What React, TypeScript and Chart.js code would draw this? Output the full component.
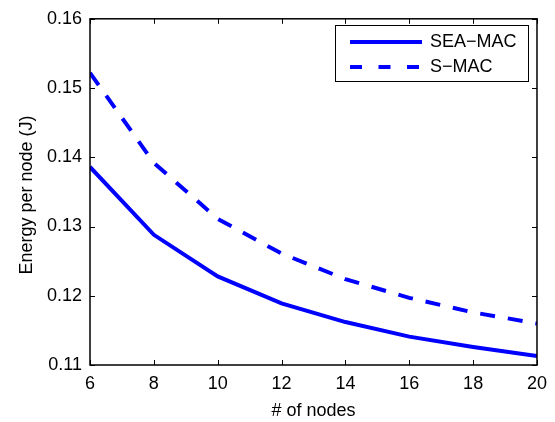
import React, { useEffect, useRef } from "react";
import { Chart, registerables } from "chart.js";

Chart.register(...registerables);

const nodes = [6, 8, 10, 12, 14, 16, 18, 20];
const seaMac = [0.1386, 0.1288, 0.1228, 0.1189, 0.1162, 0.1141, 0.1126, 0.1113];
const sMac = [0.1522, 0.1392, 0.1311, 0.1261, 0.1224, 0.1197, 0.1176, 0.116];
const xTicks = [6, 8, 10, 12, 14, 16, 18, 20];
const yTicks = [0.11, 0.12, 0.13, 0.14, 0.15, 0.16];
const seriesNames = ["SEA\u2212MAC", "S\u2212MAC"];
const xTitle = "# of nodes";
const yTitle = "Energy per node (J)";

const FONT = "Liberation Sans, Arial, Helvetica, sans-serif";
const BLUE = "#0000ff";

const decorPlugin = {
  id: "matlabDecor",
  afterDraw(chart: any) {
    const ctx = chart.ctx as CanvasRenderingContext2D;
    const { left, right, top, bottom } = chart.chartArea;
    const xs = chart.scales.x;
    const ys = chart.scales.y;
    ctx.save();
    // box
    ctx.strokeStyle = "#000";
    ctx.lineWidth = 1.5;
    ctx.setLineDash([]);
    ctx.strokeRect(left, top, right - left, bottom - top);
    // inward ticks
    ctx.lineWidth = 1;
    const tl = 5;
    ctx.beginPath();
    xTicks.forEach((v) => {
      const px = Math.round(xs.getPixelForValue(v)) + 0.5;
      ctx.moveTo(px, bottom);
      ctx.lineTo(px, bottom - tl);
      ctx.moveTo(px, top);
      ctx.lineTo(px, top + tl);
    });
    yTicks.forEach((v) => {
      const py = Math.round(ys.getPixelForValue(v)) + 0.5;
      ctx.moveTo(left, py);
      ctx.lineTo(left + tl, py);
      ctx.moveTo(right, py);
      ctx.lineTo(right - tl, py);
    });
    ctx.stroke();

    // axis titles
    ctx.fillStyle = "#000";
    ctx.font = `18px ${FONT}`;
    ctx.textAlign = "center";
    ctx.textBaseline = "alphabetic";
    ctx.fillText(xTitle, (left + right) / 2, 416);
    ctx.save();
    ctx.translate(27, 195);
    ctx.rotate(-Math.PI / 2);
    ctx.textBaseline = "middle";
    ctx.fillText(yTitle, 0, 0);
    ctx.restore();

    // legend
    const lx0 = 335, ly0 = 25, lx1 = 528, ly1 = 81;
    ctx.fillStyle = "#fff";
    ctx.fillRect(lx0, ly0, lx1 - lx0, ly1 - ly0);
    ctx.strokeStyle = "#000";
    ctx.lineWidth = 1;
    ctx.strokeRect(lx0 + 0.5, ly0 + 0.5, lx1 - lx0, ly1 - ly0);
    const rows = [42, 67];
    const dashes = [[], [12, 16.5]];
    rows.forEach((ry, i) => {
      ctx.strokeStyle = BLUE;
      ctx.lineWidth = 4;
      ctx.lineCap = "butt";
      ctx.setLineDash(dashes[i]);
      ctx.beginPath();
      ctx.moveTo(350, ry);
      ctx.lineTo(422, ry);
      ctx.stroke();
      ctx.setLineDash([]);
      ctx.fillStyle = "#000";
      ctx.textAlign = "left";
      ctx.textBaseline = "middle";
      ctx.fillText(seriesNames[i], 430, ry);
    });
    ctx.restore();
  },
};

export default function App() {
  const ref = useRef<HTMLCanvasElement | null>(null);
  useEffect(() => {
    document.body.style.margin = "0";
    const canvas = ref.current;
    if (!canvas) return;
    const chart = new Chart(canvas, {
      type: "line",
      data: {
        datasets: [
          {
            label: seriesNames[0],
            data: nodes.map((x, i) => ({ x, y: seaMac[i] })),
            borderColor: BLUE,
            borderWidth: 4,
            pointRadius: 0,
            tension: 0,
            fill: false,
            clip: 0,
          },
          {
            label: seriesNames[1],
            data: nodes.map((x, i) => ({ x, y: sMac[i] })),
            borderColor: BLUE,
            borderWidth: 4,
            borderDash: [15, 13],
            borderCapStyle: "butt",
            pointRadius: 0,
            tension: 0,
            fill: false,
            clip: 0,
          },
        ],
      },
      options: {
        animation: false,
        responsive: false,
        devicePixelRatio: 1,
        layout: { padding: { top: 14, right: 16, left: 0, bottom: 0 } },
        plugins: {
          legend: { display: false },
          tooltip: { enabled: false },
        },
        scales: {
          x: {
            type: "linear",
            min: 6,
            max: 20,
            afterBuildTicks: (s: any) => {
              s.ticks = xTicks.map((v) => ({ value: v }));
            },
            afterFit: (s: any) => {
              s.height = 57;
            },
            border: { display: false },
            grid: { display: false, drawTicks: false },
            ticks: {
              color: "#000",
              font: { family: FONT, size: 18 },
              padding: 8,
              maxRotation: 0,
              autoSkip: false,
            },
          },
          y: {
            type: "linear",
            min: 0.11,
            max: 0.16,
            afterBuildTicks: (s: any) => {
              s.ticks = yTicks.map((v) => ({ value: v }));
            },
            afterFit: (s: any) => {
              s.width = 90;
            },
            border: { display: false },
            grid: { display: false, drawTicks: false },
            ticks: {
              color: "#000",
              font: { family: FONT, size: 18 },
              padding: 8,
              autoSkip: false,
              callback: (v: any) => Number(v).toFixed(2),
            },
          },
        },
      },
      plugins: [decorPlugin],
    });
    return () => chart.destroy();
  }, []);
  return (
    <div style={{ width: 555, height: 422, background: "#fff" }}>
      <canvas ref={ref} width={555} height={422} style={{ display: "block" }} />
    </div>
  );
}
